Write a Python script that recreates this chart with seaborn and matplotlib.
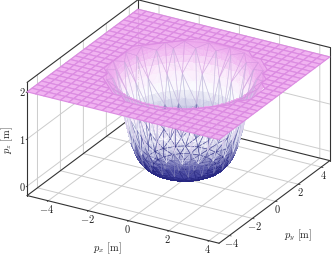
import numpy as np
import matplotlib
matplotlib.use("Agg")
import matplotlib.pyplot as plt
import matplotlib.tri as mtri
import seaborn as sns

# values
x_limits = [-5.05, 4.5]
y_limits = [-4.9, 4.75]
z_limits = [-0.2, 2.2]
plane_cells = 23
plane_height = 2.0
hole_radius = 3.35

# smooth fill of the bowl
fill_radius = [0.4, 0.8, 1.1, 1.3, 1.5, 1.7, 1.85, 2.0, 2.12, 2.22, 2.32, 2.4, 2.48, 2.55, 2.62, 2.7, 2.78, 2.87, 2.96, 3.05, 3.15, 3.25, 3.35, 3.45, 3.6]
fill_height = [0.0, 0.0, 0.01, 0.03, 0.06, 0.11, 0.17, 0.25, 0.34, 0.45, 0.57, 0.7, 0.84, 0.98, 1.14, 1.33, 1.52, 1.68, 1.82, 1.92, 1.96, 1.98, 1.99, 2.0, 2.0]
fill_angles = list(range(0, 360, 8))

# coarser wire on top of it
wire_radius = [0.5, 1.0, 1.4, 1.75, 2.0, 2.2, 2.35, 2.5, 2.75, 3.1, 3.42]
wire_height = [0.0, 0.0, 0.04, 0.13, 0.25, 0.43, 0.6, 0.88, 1.46, 1.93, 2.0]
wire_shift = [0, 6, 13, 4, 9, 15, 2, 11, 7, 14, 5]
wire_angles = [0, 15, 33, 47, 66, 80, 97, 115, 129, 148, 163, 180, 196, 213, 229, 245, 262, 278, 295, 312, 329, 344]

axis_ticks = [-4, -2, 0, 2, 4]
z_ticks = [0, 1, 2]

sns.set_theme(style="white")
plt.rcParams["mathtext.fontset"] = "cm"
plt.rcParams["font.family"] = ["DejaVu Serif"]

face_map = sns.blend_palette(["#2b2b8f", "#5656aa", "#c4c4e2", "#fafafe", "#fbe8fb", "#eda9ed"], as_cmap=True)
near_map = sns.blend_palette(["#20207a", "#34348c", "#e8e8f6", "#e8e8f6", "#cdb8e4", "#d98be0"], as_cmap=True)
far_map = sns.blend_palette(["#20207a", "#3c3c94", "#a4a4cc", "#bcbcdc", "#cdb0e2", "#d98be0"], as_cmap=True)

fig = plt.figure(figsize=(3.32, 2.56), dpi=100)
# square axes wider than the figure so nothing gets clipped
ax = fig.add_axes([8 / 332, (2 - 38) / 256, 1, 332 / 256], projection="3d", proj_type="ortho", computed_zorder=False)
ax.view_init(elev=25.5, azim=-60)
ax.set_box_aspect((221, 221, 125), zoom=0.987)
ax.set_xlim(*x_limits)
ax.set_ylim(*y_limits)
ax.set_zlim(*z_limits)


def rings(radius, height, angles, shift):
    xs, ys, zs = [0.0], [0.0], [0.0]
    for r, h, s in zip(radius, height, shift):
        for a in angles:
            t = np.deg2rad(a + s)
            xs.append(r * np.cos(t))
            ys.append(r * np.sin(t))
            zs.append(h)
    return xs, ys, zs


# bowl fill
xs, ys, zs = rings(fill_radius, fill_height, fill_angles, [0] * len(fill_radius))
ax.plot_trisurf(xs, ys, zs, cmap=face_map, vmin=0, vmax=2, linewidth=0, antialiased=False, alpha=0.9, zorder=2)

# bowl wire
xs, ys, zs = rings(wire_radius, wire_height, wire_angles, wire_shift)
wire = ax.plot_trisurf(xs, ys, zs, color=(0, 0, 0, 0), linewidth=0.45, shade=False, zorder=2.5)
mesh = mtri.Triangulation(xs, ys)
mean_x = np.array(xs)[mesh.triangles].mean(axis=1)
mean_y = np.array(ys)[mesh.triangles].mean(axis=1)
mean_z = np.array(zs)[mesh.triangles].mean(axis=1)
near = 0.5 * mean_x - 0.866 * mean_y > 0
edges = np.where(near[:, None], near_map(mean_z / 2), far_map(mean_z / 2))
edges[:, 3] = np.where(near, 0.8, 0.55)
edges[np.hypot(mean_x, mean_y) < 1.2, 3] = 0.15
wire.set_edgecolor(edges)

# flat plane with the hole cut out
px, py = np.meshgrid(np.linspace(*x_limits, plane_cells + 1), np.linspace(*y_limits, plane_cells + 1))
pz = np.full(px.shape, plane_height)
pz[np.hypot(px, py) < hole_radius] = np.nan
ax.plot_surface(px, py, pz, rstride=1, cstride=1, color="#f0aef0", edgecolor="#dc8ce2", linewidth=0.85, alpha=0.93, shade=False, zorder=3)

# box lines
dark = "#333333"
x0, x1 = x_limits
y0, y1 = y_limits
z0, z1 = z_limits
back = [
    ((x0, x0), (y0, y0), (z0, z1)),
    ((x0, x0), (y0, y1), (z1, z1)),
    ((x0, x1), (y1, y1), (z1, z1)),
    ((x1, x1), (y1, y1), (z0, z1)),
    ((x0, x0), (y1, y1), (z0, z1)),
    ((x0, x0), (y0, y1), (z0, z0)),
    ((x0, x1), (y1, y1), (z0, z0)),
]
for lx, ly, lz in back:
    ax.plot(lx, ly, lz, color=dark, lw=0.8, zorder=1)
ax.plot((x0, x1), (y0, y0), (z0, z0), color=dark, lw=0.8, zorder=4)
ax.plot((x1, x1), (y0, y1), (z0, z0), color=dark, lw=0.8, zorder=4)

# axes
ax.xaxis.pane.fill = False
ax.yaxis.pane.fill = False
ax.zaxis.pane.fill = False
for a in (ax.xaxis, ax.yaxis, ax.zaxis):
    a.pane.set_edgecolor("none")
    a.line.set_color("none")
    a._axinfo["grid"].update(color="#cccccc", linewidth=0.7)
    a._axinfo["tick"].update(inward_factor=0.12, outward_factor=0.0, linewidth={True: 0.5, False: 0.5}, color="#666666")
ax.grid(True)
ax.set_xticks(axis_ticks)
ax.set_yticks(axis_ticks)
ax.set_zticks(z_ticks)
ax.set_xticklabels([f"${v}$" for v in axis_ticks], fontsize=7.5)
ax.set_yticklabels([f"${v}$" for v in axis_ticks], fontsize=7.5)
ax.set_zticklabels([f"${v}$" for v in z_ticks], fontsize=7.5)
ax.zaxis.set_ticks_position("lower")
for lab in ax.get_zticklabels():
    lab.set_va("center")
ax.tick_params(axis="x", pad=-6.5, colors="#222222")
ax.tick_params(axis="y", pad=-6.5, colors="#222222")
ax.tick_params(axis="z", pad=-6, colors="#222222")

fig.text(107 / 332, 1 - 248.5 / 256, r"$p_x$ $\mathrm{[m]}$", fontsize=7.5, ha="center", va="center", color="#222222")
fig.text(298 / 332, 1 - 235 / 256, r"$p_y$ $\mathrm{[m]}$", fontsize=7.5, ha="center", va="center", color="#222222")
fig.text(7 / 332, 1 - 140 / 256, r"$p_z$ $\mathrm{[m]}$", fontsize=7.5, ha="center", va="center", rotation=90, color="#222222")

fig.savefig("out.png", dpi=100)
